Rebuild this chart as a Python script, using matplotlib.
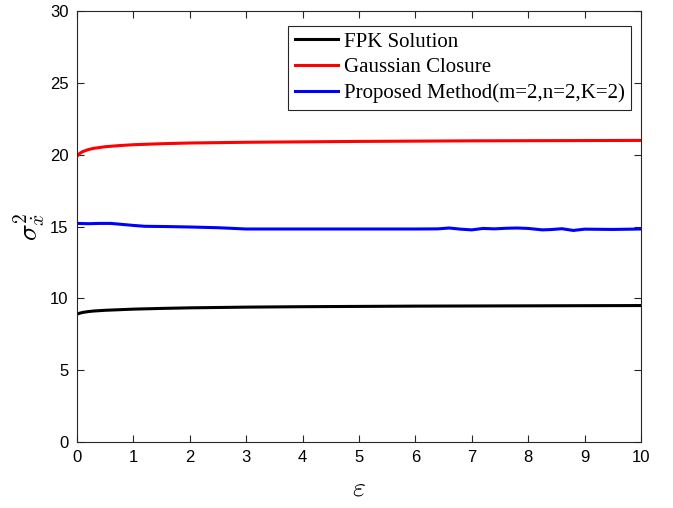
import numpy as np
import matplotlib.pyplot as plt

plt.rcParams['mathtext.fontset'] = 'cm'

# response variance vs. epsilon
eps_smooth = [0.0, 0.05, 0.1, 0.2, 0.3, 0.5, 0.75, 1.0, 1.5, 2.0, 3.0, 4.0, 5.0, 6.0, 7.0, 8.0, 9.0, 10.0]
fpk = [8.9, 8.97, 9.02, 9.08, 9.12, 9.17, 9.21, 9.25, 9.3, 9.34, 9.39, 9.42, 9.44, 9.46, 9.47, 9.48, 9.49, 9.5]
gauss = [19.9, 20.1, 20.22, 20.36, 20.45, 20.56, 20.64, 20.7, 20.77, 20.82, 20.87, 20.9, 20.93, 20.95, 20.97, 20.98, 20.99, 21.0]

eps_prop = [0.0, 0.2, 0.4, 0.6, 0.8, 1.0, 1.2, 1.6, 2.0, 2.5, 3.0, 3.5, 4.0, 5.0, 6.0, 6.4,
            6.6, 6.8, 7.0, 7.2, 7.4, 7.6, 7.8, 8.0, 8.25, 8.4, 8.6, 8.8, 9.0, 9.5, 10.0]
proposed = [15.22, 15.2, 15.22, 15.22, 15.15, 15.08, 15.02, 15.0, 14.97, 14.92, 14.83, 14.83, 14.83, 14.83, 14.83, 14.84,
            14.9, 14.82, 14.77, 14.87, 14.84, 14.88, 14.9, 14.87, 14.77, 14.79, 14.85, 14.73, 14.82, 14.8, 14.83]

fig = plt.figure(figsize=(6.73, 5.08), dpi=100)
ax = fig.add_axes([0.1144, 0.13, 0.838, 0.848])

ax.plot(eps_smooth, fpk, color='black', lw=2.2, label='FPK Solution')
ax.plot(eps_smooth, gauss, color='red', lw=2.2, label='Gaussian Closure')
ax.plot(eps_prop, proposed, color='blue', lw=2.2, label='Proposed Method(m=2,n=2,K=2)')

ax.set_xlim(0, 10)
ax.set_ylim(0, 30)
ax.set_xticks(np.arange(0, 11, 1))
ax.set_yticks(np.arange(0, 31, 5))

edge = '#262626'
for s in ax.spines.values():
    s.set_color(edge)
    s.set_linewidth(0.8)
ax.tick_params(direction='in', top=True, right=True, length=5, width=0.8,
               color=edge, labelsize=12, pad=6)
for lbl in ax.get_xticklabels() + ax.get_yticklabels():
    lbl.set_family('Liberation Sans')

ax.set_xlabel(r'$\varepsilon$', fontsize=20, labelpad=6)
ax.set_ylabel(r'$\sigma^2_{\dot{x}}$', fontsize=20, labelpad=2)

leg = ax.legend(loc='upper right', bbox_to_anchor=(0.982, 0.966), fancybox=False,
                edgecolor=edge, framealpha=1, handlelength=2.1, handletextpad=0.25,
                borderpad=0.3, labelspacing=0.3, borderaxespad=0,
                prop={'family': 'Liberation Serif', 'size': 15})
leg.get_frame().set_linewidth(0.8)

fig.savefig('out.png', dpi=100)
